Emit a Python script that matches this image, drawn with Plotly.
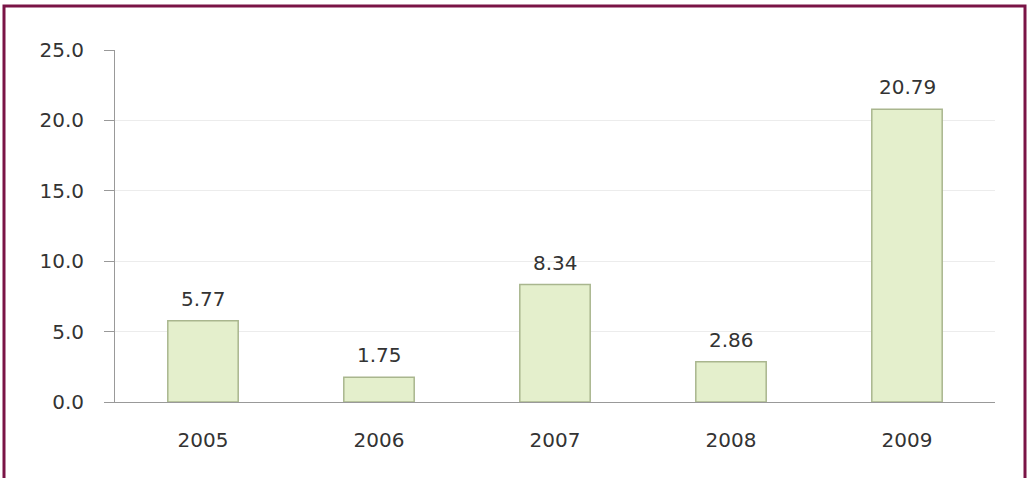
import plotly.graph_objects as go

years = ["2005", "2006", "2007", "2008", "2009"]
values = [5.77, 1.75, 8.34, 2.86, 20.79]
labels = ["5.77", "1.75", "8.34", "2.86", "20.79"]
y_ticks = [0, 5, 10, 15, 20, 25]
y_tick_text = ["0.0", "5.0", "10.0", "15.0", "20.0", "25.0"]

L, R, T, B = 115, 34, 50, 76
W, H = 1029, 478
pw, ph = W - L - R, H - T - B

def px(x):
    return (x - L) / pw

def py(y):
    return (H - B - y) / ph

FONT = "DejaVu Sans"
FS = 20
fig = go.Figure()
fig.add_trace(go.Bar(
    x=years, y=values,
    marker=dict(color="#e4efcc", line=dict(color="#a9b68e", width=1.5)),
    width=0.4, hoverinfo="skip",
))

annotations = [
    dict(x=i, y=yv, text=t, xref="x", yref="y", showarrow=False,
         yanchor="middle", yshift=22,
         font=dict(family=FONT, size=FS, color="#333333"))
    for i, (yv, t) in enumerate(zip(values, labels))
]

fig.update_layout(
    width=W, height=H,
    margin=dict(l=L, r=R, t=T, b=B),
    paper_bgcolor="white", plot_bgcolor="white",
    showlegend=False,
    font=dict(family=FONT, size=FS, color="#333333"),
    xaxis=dict(type="category", range=[-0.5, len(years) - 0.5],
               showgrid=False, showline=True, linecolor="#999999", linewidth=1,
               ticks="", ticklabelstandoff=20, tickfont=dict(size=FS)),
    yaxis=dict(range=[0, 25], tickvals=y_ticks, ticktext=y_tick_text,
               showgrid=True, gridcolor="#ececec", gridwidth=1,
               showline=True, linecolor="#999999", linewidth=1,
               ticks="outside", ticklen=10, tickcolor="#999999",
               ticklabelstandoff=16, zeroline=False, tickfont=dict(size=FS)),
    annotations=annotations,
    shapes=[dict(type="rect", xref="paper", yref="paper",
                 x0=px(4), x1=px(1025), y0=py(492), y1=py(6),
                 line=dict(color="#7a1446", width=3), layer="above")],
)

fig.write_html("out.html", config={"displayModeBar": False},
               post_script="document.body.style.margin='0';")
